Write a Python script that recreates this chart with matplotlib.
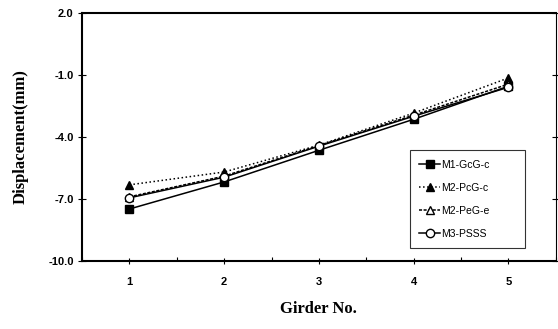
import matplotlib
matplotlib.use("Agg")
import matplotlib.pyplot as plt
from matplotlib.ticker import MultipleLocator, FormatStrFormatter

girders = [1, 2, 3, 4, 5]
m1_gcg_c = [-7.49, -6.18, -4.65, -3.15, -1.55]
m2_pcg_c = [-6.32, -5.70, -4.40, -2.85, -1.15]
m2_peg_e = [-6.90, -5.90, -4.42, -2.95, -1.45]
m3_psss = [-6.95, -5.95, -4.45, -3.00, -1.60]
labels = ["M1-GcG-c", "M2-PcG-c", "M2-PeG-e", "M3-PSSS"]
yticks = [2.0, -1.0, -4.0, -7.0, -10.0]

fig = plt.figure(figsize=(5.58, 3.29), dpi=100)
ax = fig.add_axes([0.147, 0.207, 0.849, 0.754])

ax.plot(girders, m1_gcg_c, color="black", lw=1.1, ls="-", marker="s", ms=6,
        mfc="black", mec="black", label=labels[0])
ax.plot(girders, m2_pcg_c, color="black", lw=1.1, ls=":", marker="^", ms=6,
        mfc="black", mec="black", label=labels[1])
ax.plot(girders, m2_peg_e, color="black", lw=1.1, ls=(0, (2, 1)), marker="^", ms=6,
        mfc="white", mec="black", label=labels[2])
ax.plot(girders, m3_psss, color="black", lw=1.1, ls="-", marker="o", ms=6,
        mfc="white", mec="black", label=labels[3])

ax.set_xlim(0.5, 5.5)
ax.set_ylim(-10, 2)
ax.set_xticks(girders)
ax.xaxis.set_minor_locator(MultipleLocator(0.5))
ax.set_yticks(yticks)
ax.yaxis.set_major_formatter(FormatStrFormatter("%.1f"))

for lbl in ax.get_xticklabels() + ax.get_yticklabels():
    lbl.set_fontfamily("Liberation Sans")
    lbl.set_fontweight("bold")
    lbl.set_fontsize(8)

ax.tick_params(axis="x", which="major", direction="inout", length=5, width=0.8, pad=9)
ax.tick_params(axis="x", which="minor", direction="in", length=3, width=0.8)
ax.tick_params(axis="y", which="major", direction="inout", length=6, width=0.8, pad=3,
               right=True)

for side in ["left", "bottom", "top"]:
    ax.spines[side].set_linewidth(1.5)
ax.spines["right"].set_linewidth(0.8)

ax.set_ylabel("Displacement(mm)", fontfamily="Liberation Serif", fontweight="bold",
              fontsize=12, labelpad=14)
ax.set_xlabel("Girder No.", fontfamily="Liberation Serif", fontweight="bold",
              fontsize=12, labelpad=10)

leg = ax.legend(loc="lower left", bbox_to_anchor=(0.692, 0.052, 0.243, 0.415),
                mode="expand", frameon=True, fancybox=False, edgecolor="black",
                prop={"family": "Liberation Sans", "size": 7.5},
                handlelength=2.0, handletextpad=0.1, labelspacing=1.25,
                borderpad=0.9, borderaxespad=0)
leg.get_frame().set_linewidth(0.8)

fig.savefig("out.png", dpi=100)
